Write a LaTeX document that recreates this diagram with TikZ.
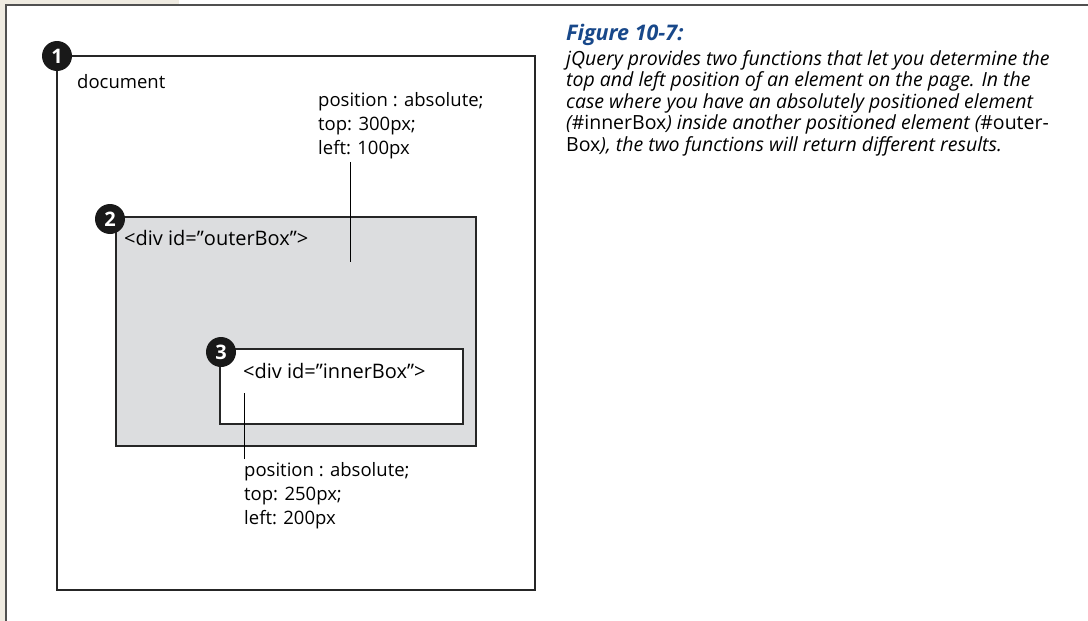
\documentclass[tikz,border=0pt]{standalone}
\usepackage{fontspec}
\setmainfont{Open Sans}
\usetikzlibrary{positioning}
\definecolor{pagebeige}{RGB}{239,235,225}
\definecolor{framegray}{RGB}{80,80,80}
\definecolor{boxgray}{RGB}{220,221,223}
\definecolor{captionblue}{RGB}{24,72,138}

\begin{document}
\begin{tikzpicture}[x=1pt, y=-1pt,
        pageframe/.style={draw=framegray, line width=2pt},
        box/.style={rectangle, draw=black!85, line width=1.3pt, inner sep=0pt,
                    outer sep=0pt, anchor=north west},
        badge/.style={circle, fill=black!90, text=white, inner sep=0pt,
                      minimum size=30pt, font=\fontsize{20}{20}\selectfont\bfseries},
        codetext/.style={inner sep=0pt, align=left, anchor=base west,
                         font=\fontsize{18.5}{24}\selectfont},
        divtext/.style={codetext, font=\fontsize{20}{24}\selectfont},
        pin/.style={draw=black, line width=1pt},
      ]
      \useasboundingbox (0,0) rectangle (1088,621);
      \fill[white] (0,0) rectangle (1088,621);
      % page edge
      \fill[pagebeige] (0,0) rectangle (179,5);
      \fill[pagebeige] (0,0) rectangle (5,621);
      \draw[pageframe] (1090,5) -- (6,5) -- (6,623);
      % boxes
      \node[box, minimum width=478pt, minimum height=534pt] (docbox) at (57,56) {};
      \node[box, fill=boxgray, minimum width=360pt, minimum height=229pt] (outerbox) at (116,217) {};
      \node[box, fill=white, minimum width=243pt, minimum height=75pt] (innerbox) at (220,349) {};
      \node[badge] (badgedoc) at (docbox.north west) {1};
      \node[badge] (badgeouter) at (110,219) {2};
      \node[badge] (badgeinner) at (221,352) {3};
      \node[codetext] (doclabel) at (77,88) {document};
      \node[divtext] (outerlabel) at (124,245) {<div id=”outerBox”>};
      \node[divtext] (innerlabel) at (243,378) {<div id=”innerBox”>};
      % css labels
      \node[codetext, anchor=north west] (outercss) at (318,92)
        {position : absolute;\\top: 300px;\\left: 100px};
      \node[codetext, anchor=north west] (innercss) at (244,462)
        {position : absolute;\\top: 250px;\\left: 200px};
      \coordinate (outerpin) at (350,262);
      \coordinate (innerpin) at (244,393);
      \draw[pin] ([yshift=-3pt]outercss.south west -| outerpin) -- (outerpin);
      \draw[pin] ([yshift=3pt]innercss.north west) -- (innerpin);
      % caption
      \node[inner sep=0pt, anchor=base west, text=captionblue,
            font=\fontsize{21.5}{21}\selectfont\bfseries\itshape] (figtitle) at (566,41) {Figure 10-7:};
      \node[inner sep=0pt, align=left, font=\fontsize{19.5}{21.5}\selectfont\itshape,
            below=4pt of figtitle.south west, anchor=north west] (figcaption)
        {jQuery provides two functions that let you determine the\\
         top and left position of an element on the page. In the\\
         case where you have an absolutely positioned element\\
         ({\upshape\#innerBox}) inside another positioned element ({\upshape\#outer-}\\
         {\upshape Box}), the two functions will return different results.};
    \end{tikzpicture}
\end{document}
